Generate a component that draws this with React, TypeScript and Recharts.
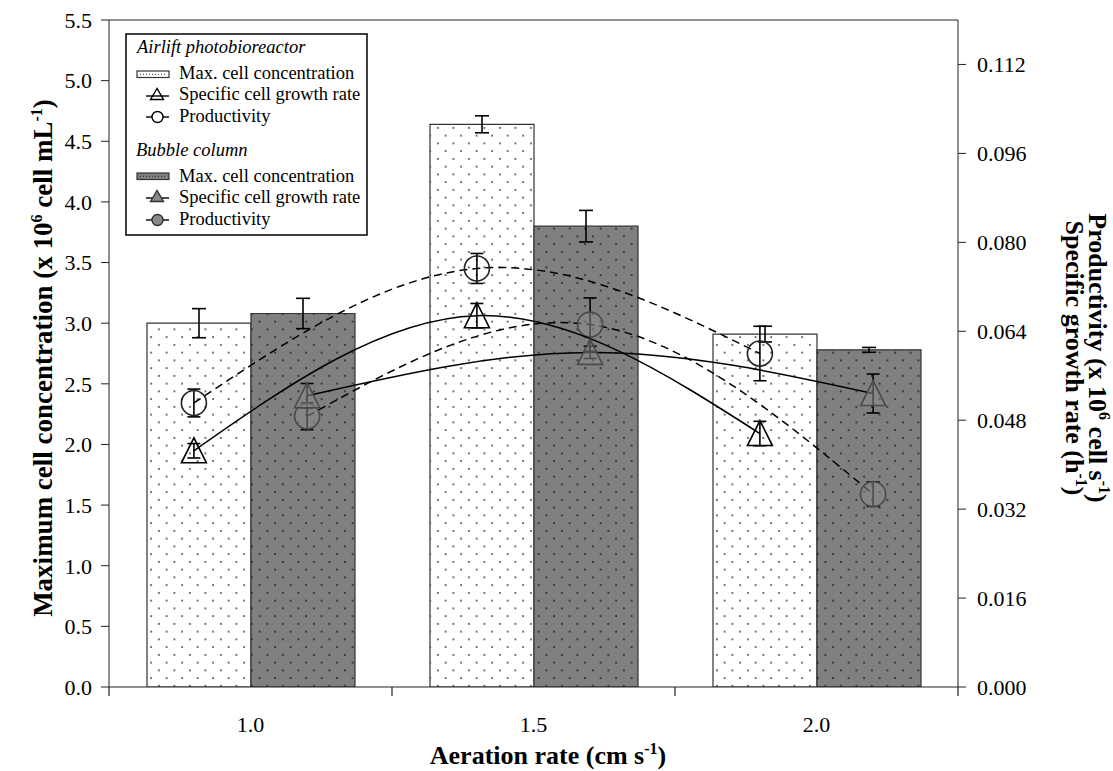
import React from 'react';
import {
  ComposedChart,
  Bar,
  Scatter,
  XAxis,
  YAxis,
  ErrorBar,
  ReferenceLine,
  Label,
} from 'recharts';

// aeration rate groups (cm s-1)
const rates = ['1.0', '1.5', '2.0'];

// max. cell concentration (x 10^6 cell/mL), left axis
const airliftConc = [3.0, 4.64, 2.91];
const airliftConcErr = [0.12, 0.07, 0.065];
const bubbleConc = [3.08, 3.8, 2.78];
const bubbleConcErr = [0.125, 0.13, 0.02];

// marker positions on the aeration axis (slightly offset from group centres)
const airliftX = [0.9, 1.4, 1.9];
const bubbleX = [1.1, 1.6, 2.1];

// specific growth rate (h-1) and productivity, right axis
const airliftGrowth = [0.0425, 0.0668, 0.0456];
const airliftGrowthErr = [0.0013, 0.0022, 0.0022];
const bubbleGrowth = [0.0524, 0.0602, 0.0528];
const bubbleGrowthErr = [0.0022, 0.0011, 0.0035];
const airliftProd = [0.0511, 0.0753, 0.06];
const airliftProdErr = [0.0025, 0.0027, 0.0049];
const bubbleProd = [0.0487, 0.0652, 0.0347];
const bubbleProdErr = [0.0024, 0.0048, 0.0022];

const leftTicks = [0, 0.5, 1, 1.5, 2, 2.5, 3, 3.5, 4, 4.5, 5, 5.5];
const rightTicks = [0, 0.016, 0.032, 0.048, 0.064, 0.08, 0.096, 0.112];
const xLabelTicks = [1.0, 1.5, 2.0];
const xBoundaryTicks = [0.75, 1.25, 1.75, 2.25];

const barRows = rates.map((rate, i) => ({
  rate,
  airlift: airliftConc[i],
  airliftErr: airliftConcErr[i],
  bubble: bubbleConc[i],
  bubbleErr: bubbleConcErr[i],
}));

const toPoints = (xs: number[], ys: number[], errs: number[]) =>
  xs.map((x, i) => ({ x, y: ys[i], err: errs[i] }));

const airliftGrowthPts = toPoints(airliftX, airliftGrowth, airliftGrowthErr);
const bubbleGrowthPts = toPoints(bubbleX, bubbleGrowth, bubbleGrowthErr);
const airliftProdPts = toPoints(airliftX, airliftProd, airliftProdErr);
const bubbleProdPts = toPoints(bubbleX, bubbleProd, bubbleProdErr);

const FONT = '"Liberation Serif", "Times New Roman", serif';
const greyFill = '#8a8a8a';
const greyStroke = '#4a4a4a';

const triPoints = (cx: number, cy: number, hw: number, up: number, down: number) =>
  `${cx},${cy - up} ${cx - hw},${cy + down} ${cx + hw},${cy + down}`;

const OpenTriangle = (props: any) => (
  <polygon points={triPoints(props.cx, props.cy, 12.5, 13, 12)} fill="none" stroke="#000" strokeWidth={1.6} />
);
const GreyTriangle = (props: any) => (
  <polygon
    points={triPoints(props.cx, props.cy, 12.5, 13, 12)}
    fill={greyFill}
    fillOpacity={0.55}
    stroke={greyStroke}
    strokeWidth={1.6}
  />
);
const OpenCircle = (props: any) => (
  <circle cx={props.cx} cy={props.cy} r={12.5} fill="none" stroke="#222" strokeWidth={1.6} />
);
const GreyCircle = (props: any) => (
  <circle cx={props.cx} cy={props.cy} r={12.5} fill={greyFill} fillOpacity={0.55} stroke={greyStroke} strokeWidth={1.6} />
);

const XTick = (props: any) => {
  const { x, y, payload } = props;
  const v = payload.value;
  if (xBoundaryTicks.includes(v)) {
    return <line x1={x} x2={x} y1={y} y2={y + 9} stroke="#222" strokeWidth={1.2} />;
  }
  return (
    <text x={x} y={y + 45} textAnchor="middle" fontFamily={FONT} fontSize={22} fill="#000">
      {v.toFixed(1)}
    </text>
  );
};

const tickStyle = { fontFamily: FONT, fontSize: 22, fill: '#000' };

const LegendBox = () => (
  <svg
    width={1113}
    height={771}
    style={{ position: 'absolute', left: 0, top: 0, pointerEvents: 'none' }}
  >
    <defs>
      <pattern id="dotsLight" patternUnits="userSpaceOnUse" width={15.5} height={15.5}>
        <rect width={15.5} height={15.5} fill="#fff" />
        <circle cx={3.9} cy={3.9} r={0.9} fill="#333" />
        <circle cx={11.65} cy={11.65} r={0.9} fill="#333" />
      </pattern>
      <pattern id="dotsDark" patternUnits="userSpaceOnUse" width={15.5} height={15.5}>
        <rect width={15.5} height={15.5} fill="#808080" />
        <circle cx={3.9} cy={3.9} r={0.9} fill="#1a1a1a" />
        <circle cx={11.65} cy={11.65} r={0.9} fill="#1a1a1a" />
      </pattern>
    </defs>
    <rect x={126} y={34} width={241} height={201} fill="#fff" stroke="#000" strokeWidth={1.5} />
    <g fontFamily={FONT} fontSize={18.5} fill="#000">
      <text x={137} y={53} fontStyle="italic">Airlift photobioreactor</text>
      <rect x={137} y={71} width={32} height={6.5} fill="#fff" stroke="#333" strokeWidth={1.2} />
      <line x1={140} x2={167} y1={74.3} y2={74.3} stroke="#333" strokeDasharray="1 2" />
      <text x={179} y={79}>Max. cell concentration</text>
      <line x1={146} x2={169} y1={96} y2={96} stroke="#000" strokeWidth={1.4} />
      <polygon points={triPoints(157, 94.5, 6.5, 6, 5)} fill="none" stroke="#000" strokeWidth={1.4} />
      <text x={179} y={100}>Specific cell growth rate</text>
      <line x1={146} x2={169} y1={117} y2={117} stroke="#000" strokeWidth={1.4} />
      <circle cx={157.5} cy={117} r={5.5} fill="#fff" stroke="#000" strokeWidth={1.4} />
      <text x={179} y={122}>Productivity</text>

      <text x={136} y={156} fontStyle="italic">Bubble column</text>
      <rect x={137} y={173} width={32} height={6.5} fill="#808080" stroke="#333" strokeWidth={1.2} />
      <line x1={140} x2={167} y1={176.3} y2={176.3} stroke="#222" strokeDasharray="1 2" />
      <text x={179} y={182}>Max. cell concentration</text>
      <line x1={146} x2={169} y1={198} y2={198} stroke="#000" strokeWidth={1.4} />
      <polygon points={triPoints(157, 196.5, 6.5, 6, 5)} fill={greyFill} stroke="#333" strokeWidth={1.4} />
      <text x={179} y={203}>Specific cell growth rate</text>
      <line x1={146} x2={169} y1={220} y2={220} stroke="#000" strokeWidth={1.4} />
      <circle cx={157.5} cy={220} r={5.5} fill={greyFill} stroke="#333" strokeWidth={1.4} />
      <text x={179} y={225}>Productivity</text>
    </g>
  </svg>
);

const App: React.FC = () => {
  return (
    <div style={{ position: 'absolute', left: 0, top: 0, width: 1113, height: 771, background: '#fff' }}>
      <ComposedChart
        width={1113}
        height={771}
        data={barRows}
        margin={{ top: 20, right: 0, bottom: 0, left: 0 }}
        barGap={0}
      >
        <XAxis
          xAxisId="num"
          dataKey="x"
          type="number"
          domain={[0.75, 2.25]}
          allowDataOverflow
          ticks={[...xBoundaryTicks, ...xLabelTicks].sort((a, b) => a - b)}
          interval={0}
          tickLine={false}
          tickSize={0}
          tickMargin={0}
          tick={<XTick />}
          height={84}
          stroke="#222"
        >
          <Label
            content={() => (
              <text x={548} y={764} textAnchor="middle" fontFamily={FONT} fontSize={26} fontWeight="bold" fill="#000">
                Aeration rate (cm s
                <tspan dy={-10} fontSize={16}>-1</tspan>
                <tspan dy={10}>)</tspan>
              </text>
            )}
          />
        </XAxis>
        <XAxis xAxisId="cat" dataKey="rate" type="category" hide height={0} />
        <YAxis
          yAxisId="left"
          domain={[0, 5.5]}
          ticks={leftTicks}
          interval={0}
          allowDataOverflow
          tickFormatter={(v: number) => v.toFixed(1)}
          tick={tickStyle}
          tickSize={8}
          tickMargin={9}
          width={109}
          stroke="#222"
        >
          <Label
            content={() => (
              <text
                x={52}
                y={358}
                transform="rotate(-90, 52, 358)"
                textAnchor="middle"
                fontFamily={FONT}
                fontSize={27}
                fontWeight="bold"
                fill="#000"
              >
                Maximum cell concentration (x 10
                <tspan dy={-10} fontSize={16}>6</tspan>
                <tspan dy={10}> cell mL</tspan>
                <tspan dy={-10} fontSize={16}>-1</tspan>
                <tspan dy={10}>)</tspan>
              </text>
            )}
          />
        </YAxis>
        <YAxis
          yAxisId="right"
          orientation="right"
          dataKey="y"
          domain={[0, 0.12]}
          ticks={rightTicks}
          interval={0}
          allowDataOverflow
          tickFormatter={(v: number) => v.toFixed(3)}
          tick={tickStyle}
          tickSize={8}
          tickMargin={11}
          width={155}
          stroke="#222"
        >
          <Label
            content={() => (
              <g fontFamily={FONT} fontSize={26} fontWeight="bold" fill="#000">
                <text x={1089} y={358} transform="rotate(90, 1089, 358)" textAnchor="middle">
                  Productivity (x 10
                  <tspan dy={-10} fontSize={16}>6</tspan>
                  <tspan dy={10}> cell s</tspan>
                  <tspan dy={-10} fontSize={16}>-1</tspan>
                  <tspan dy={10}>)</tspan>
                </text>
                <text x={1066} y={358} transform="rotate(90, 1066, 358)" textAnchor="middle">
                  Specific growth rate (h
                  <tspan dy={-10} fontSize={16}>-1</tspan>
                  <tspan dy={10}>)</tspan>
                </text>
              </g>
            )}
          />
        </YAxis>

        <ReferenceLine xAxisId="num" yAxisId="left" y={5.5} stroke="#222" strokeWidth={1.2} />

        <Bar
          xAxisId="cat"
          yAxisId="left"
          dataKey="airlift"
          fill="url(#dotsLight)"
          stroke="#333"
          strokeWidth={1.2}
          barSize={104}
          isAnimationActive={false}
        >
          <ErrorBar dataKey="airliftErr" direction="y" width={7} stroke="#000" strokeWidth={1.6} />
        </Bar>
        <Bar
          xAxisId="cat"
          yAxisId="left"
          dataKey="bubble"
          fill="url(#dotsDark)"
          stroke="#333"
          strokeWidth={1.2}
          barSize={104}
          isAnimationActive={false}
        >
          <ErrorBar dataKey="bubbleErr" direction="y" width={7} stroke="#000" strokeWidth={1.6} />
        </Bar>

        <Scatter
          xAxisId="num"
          yAxisId="right"
          data={airliftProdPts}
          line={{ stroke: '#000', strokeWidth: 1.5, strokeDasharray: '8 5' }}
          lineType="joint"
          lineJointType="natural"
          shape={OpenCircle}
          isAnimationActive={false}
        >
          <ErrorBar dataKey="err" direction="y" width={6.5} stroke="#000" strokeWidth={1.6} />
        </Scatter>
        <Scatter
          xAxisId="num"
          yAxisId="right"
          data={bubbleProdPts}
          line={{ stroke: '#000', strokeWidth: 1.5, strokeDasharray: '8 5' }}
          lineType="joint"
          lineJointType="natural"
          shape={GreyCircle}
          isAnimationActive={false}
        >
          <ErrorBar dataKey="err" direction="y" width={6.5} stroke="#000" strokeWidth={1.6} />
        </Scatter>
        <Scatter
          xAxisId="num"
          yAxisId="right"
          data={airliftGrowthPts}
          line={{ stroke: '#000', strokeWidth: 1.5 }}
          lineType="joint"
          lineJointType="natural"
          shape={OpenTriangle}
          isAnimationActive={false}
        >
          <ErrorBar dataKey="err" direction="y" width={6.5} stroke="#000" strokeWidth={1.6} />
        </Scatter>
        <Scatter
          xAxisId="num"
          yAxisId="right"
          data={bubbleGrowthPts}
          line={{ stroke: '#000', strokeWidth: 1.5 }}
          lineType="joint"
          lineJointType="natural"
          shape={GreyTriangle}
          isAnimationActive={false}
        >
          <ErrorBar dataKey="err" direction="y" width={6.5} stroke="#000" strokeWidth={1.6} />
        </Scatter>
      </ComposedChart>
      <LegendBox />
    </div>
  );
};

export default App;
